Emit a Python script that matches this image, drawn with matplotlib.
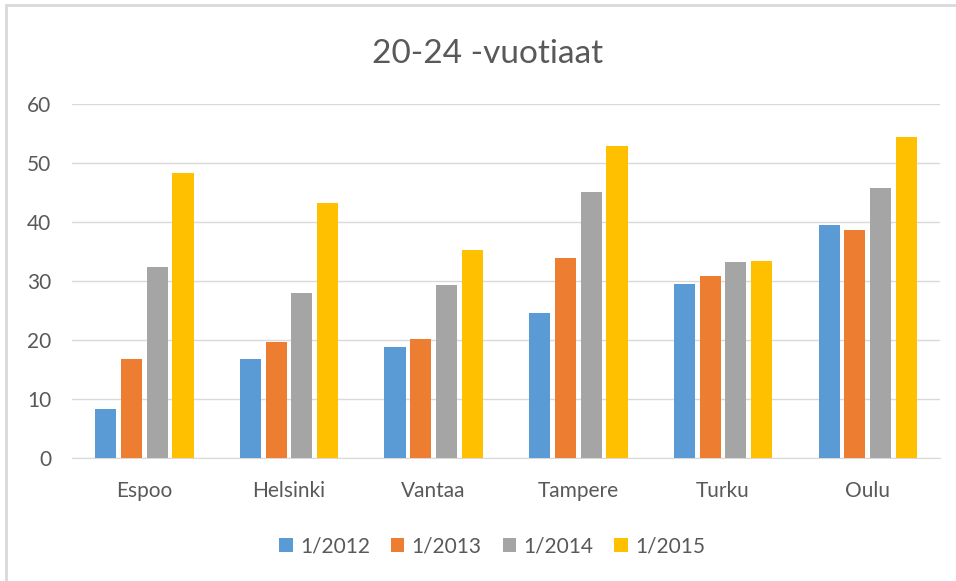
import matplotlib
matplotlib.use("Agg")
import matplotlib.pyplot as plt
from matplotlib.patches import Rectangle
import numpy as np

plt.rcParams['font.family'] = ['Lato', 'DejaVu Sans']

cities = ["Espoo", "Helsinki", "Vantaa", "Tampere", "Turku", "Oulu"]
series_names = ["1/2012", "1/2013", "1/2014", "1/2015"]
v2012 = [8.3, 16.8, 18.9, 24.6, 29.6, 39.5]
v2013 = [16.8, 19.8, 20.2, 33.9, 30.9, 38.7]
v2014 = [32.4, 28.1, 29.4, 45.1, 33.3, 45.9]
v2015 = [48.3, 43.3, 35.3, 52.9, 33.5, 54.4]
colors = ["#5b9bd5", "#ed7d31", "#a5a5a5", "#ffc000"]
txt = "#595959"

fig = plt.figure(figsize=(9.56, 5.81), dpi=100)
ax = fig.add_axes([0.0753, 0.2112, 0.908, 0.609])

# outer chart frame (only top/left visible in the crop)
fig.patches.append(Rectangle((6 / 956, -0.1), 1.2, 1.1 - 5 / 581, transform=fig.transFigure,
                             fill=False, edgecolor="#d9d9d9", linewidth=2))

x = np.arange(len(cities))
step = 0.178
for i, (vals, name) in enumerate(zip([v2012, v2013, v2014, v2015], series_names)):
    ax.bar(x + (i - 1.5) * step, vals, width=0.146, color=colors[i], label=name, zorder=3)

ax.set_xlim(-0.5, len(cities) - 0.5)
ax.set_ylim(0, 60)
ax.set_yticks(range(0, 61, 10))
ax.set_xticks(x)
ax.set_xticklabels(cities)
ax.grid(axis="y", color="#d9d9d9", linewidth=1, zorder=0)
for s in ["top", "right", "left"]:
    ax.spines[s].set_visible(False)
ax.spines["bottom"].set_color("#d9d9d9")
ax.tick_params(length=0, labelsize=15, colors=txt)
ax.tick_params(axis="y", pad=15)
ax.tick_params(axis="x", pad=16)

ax.set_title("20-24 -vuotiaat", fontsize=24, color=txt, pad=30, x=0.479)

ax.legend(loc="upper center", bbox_to_anchor=(0.484, -0.168), ncol=4, frameon=False,
          fontsize=15, labelcolor=txt, handlelength=0.65, handleheight=0.65,
          handletextpad=0.35, columnspacing=1.0)

fig.savefig("out.png", dpi=100)
